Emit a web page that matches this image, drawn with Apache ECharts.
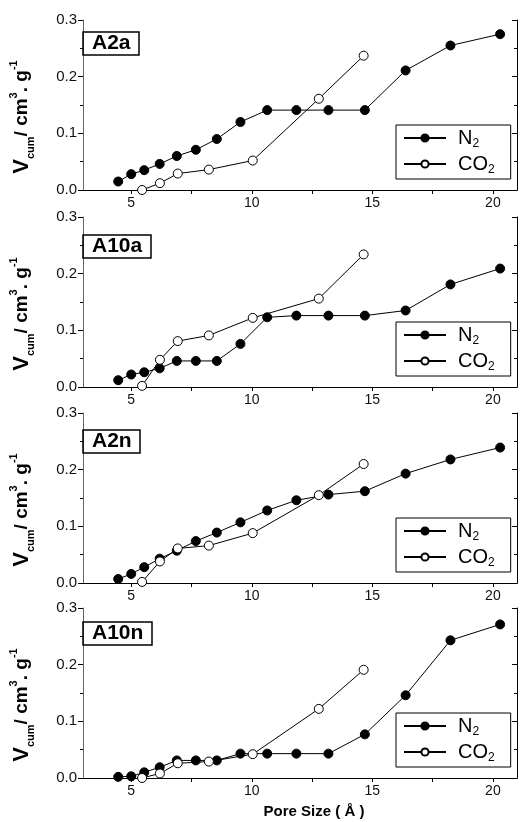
<!DOCTYPE html>
<html>
<head>
<meta charset="utf-8">
<script src="https://cdn.jsdelivr.net/npm/echarts@6/dist/echarts.min.js"></script>
<style>
  html, body { margin: 0; padding: 0; background: #fff; }
  #chart { width: 521px; height: 822px; }
</style>
</head>
<body>
<div id="chart"></div>
<script>
// 四个样品的累计孔容分布 (N2 / CO2)
const poreN2 = [4.46, 5.0, 5.54, 6.18, 6.89, 7.68, 8.55, 9.53, 10.64, 11.85, 13.18, 14.69, 16.38, 18.24, 20.30]
const poreCO2 = [5.45, 6.19, 6.93, 8.22, 10.04, 12.78, 14.64]

const panels = ['A2a', 'A10a', 'A2n', 'A10n']
const n2Vals = [
  [0.015, 0.028, 0.035, 0.046, 0.060, 0.071, 0.090, 0.120, 0.141, 0.141, 0.141, 0.141, 0.211, 0.255, 0.275],
  [0.012, 0.022, 0.026, 0.033, 0.046, 0.046, 0.046, 0.076, 0.123, 0.126, 0.126, 0.126, 0.135, 0.181, 0.209],
  [0.007, 0.016, 0.028, 0.043, 0.057, 0.074, 0.089, 0.107, 0.128, 0.146, 0.156, 0.162, 0.193, 0.218, 0.239],
  [0.002, 0.003, 0.010, 0.019, 0.031, 0.031, 0.031, 0.043, 0.043, 0.043, 0.043, 0.077, 0.146, 0.243, 0.271],
]
const co2Vals = [
  [0.0, 0.012, 0.029, 0.036, 0.052, 0.161, 0.237],
  [0.002, 0.048, 0.081, 0.091, 0.122, 0.156, 0.234],
  [0.002, 0.038, 0.061, 0.066, 0.088, 0.155, 0.210],
  [0.0, 0.008, 0.026, 0.029, 0.042, 0.122, 0.191],
]
const xTicks = [5, 7.5, 10, 12.5, 15, 17.5, 20]
const xLabels = [5, 10, 15, 20]

const FONT = 'Liberation Sans, Arial, sans-serif'
const tops = [20, 217, 413, 608]
const titleOff = [12, 18, 17, 14]   // 标签框相对图框顶部的偏移
const H = 170

const zip = (xs, ys) => xs.map((x, i) => [x, ys[i]])

const grid = [], xAxis = [], yAxis = [], series = [], title = [], legend = []

panels.forEach((p, i) => {
  const top = tops[i]
  const last = i === panels.length - 1
  grid.push({ left: 72, right: 4, top, height: H })

  xAxis.push({
    type: 'value', gridIndex: i, position: 'bottom', min: 3, max: 21,
    axisLine: { lineStyle: { color: '#000', width: 1 } },
    axisTick: { show: true, inside: false, length: 4, customValues: xTicks, lineStyle: { color: '#000' } },
    axisLabel: { customValues: xLabels, margin: 6, fontSize: 14, color: '#111', fontFamily: FONT },
    splitLine: { show: false },
    name: last ? 'Pore Size ( Å )' : '',
    nameLocation: 'middle', nameGap: 26,
    nameTextStyle: { fontSize: 15, fontWeight: 'bold', color: '#000', fontFamily: FONT, padding: [0, 0, 0, 28] },
  })
  xAxis.push({
    type: 'value', gridIndex: i, position: 'top', min: 3, max: 21,
    axisLine: { lineStyle: { color: '#000', width: 1 } },
    axisTick: { show: true, inside: true, length: 4, customValues: xTicks, lineStyle: { color: '#000' } },
    axisLabel: { show: false },
    splitLine: { show: false },
  })

  yAxis.push({
    type: 'value', gridIndex: i, position: 'left', min: 0, max: 0.3, interval: 0.1,
    axisLine: { show: true, lineStyle: { color: '#666', width: 1 } },
    axisTick: { show: true, inside: false, length: 5, lineStyle: { color: '#000' } },
    minorTick: { show: true, splitNumber: 2, length: 3, lineStyle: { color: '#000' } },
    axisLabel: { margin: 6, fontSize: 15, color: '#111', fontFamily: FONT, formatter: (v) => v.toFixed(1) },
    splitLine: { show: false },
    name: '{v|V}{s|cum}{b|/ cm}{p|3}{b|. g}{p|-1}',
    nameLocation: 'middle', nameGap: 47,
    nameTextStyle: {
      fontFamily: FONT, color: '#000', padding: [0, 24, 0, 0],
      rich: {
        v: { fontSize: 22, fontWeight: 'bold', lineHeight: 28, verticalAlign: 'middle', fontFamily: FONT },
        s: { fontSize: 11, fontWeight: 'bold', lineHeight: 28, verticalAlign: 'bottom', fontFamily: FONT },
        b: { fontSize: 19, fontWeight: 'bold', lineHeight: 28, verticalAlign: 'middle', fontFamily: FONT },
        p: { fontSize: 11, fontWeight: 'bold', lineHeight: 28, verticalAlign: 'top', fontFamily: FONT },
      },
    },
  })
  yAxis.push({
    type: 'value', gridIndex: i, position: 'right', min: 0, max: 0.3, interval: 0.1,
    axisLine: { show: true, lineStyle: { color: '#000', width: 1 } },
    axisTick: { show: true, inside: true, length: 5, lineStyle: { color: '#000' } },
    minorTick: { show: true, splitNumber: 2, length: 3, lineStyle: { color: '#000' } },
    axisLabel: { show: false },
    splitLine: { show: false },
  })

  series.push({
    name: 'N2', type: 'line', xAxisIndex: 2 * i, yAxisIndex: 2 * i,
    data: zip(poreN2, n2Vals[i]),
    symbol: 'circle', symbolSize: 9,
    itemStyle: { color: '#000', borderColor: '#000', borderWidth: 1 },
    lineStyle: { color: '#000', width: 1 },
    animation: false,
  })
  series.push({
    name: 'CO2', type: 'line', xAxisIndex: 2 * i, yAxisIndex: 2 * i,
    data: zip(poreCO2, co2Vals[i]),
    symbol: 'circle', symbolSize: 9,
    itemStyle: { color: '#fff', borderColor: '#000', borderWidth: 1 },
    lineStyle: { color: '#000', width: 1 },
    animation: false,
  })

  title.push({
    text: p, left: 83, top: top + titleOff[i],
    borderColor: '#000', borderWidth: 1.5, padding: [1, 9],
    textStyle: { fontSize: 21, fontWeight: 'bold', color: '#000', fontFamily: FONT },
  })

  legend.push({
    data: ['N2', 'CO2'], orient: 'vertical', left: 396, top: top + 105,
    borderColor: '#000', borderWidth: 1, padding: [3, 16, 3, 7],
    itemGap: 4, itemWidth: 42, itemHeight: 9, selectedMode: false,
    formatter: (name) => (name === 'N2' ? '{n|N}{s|2}' : '{n|CO}{s|2}'),
    textStyle: {
      fontFamily: FONT, color: '#000',
      rich: {
        n: { fontSize: 20, lineHeight: 24, verticalAlign: 'middle', padding: [0, 0, 0, 7], fontFamily: FONT },
        s: { fontSize: 12, lineHeight: 24, verticalAlign: 'bottom', fontFamily: FONT },
      },
    },
  })
})

const chart = echarts.init(document.getElementById('chart'))
chart.setOption({
  backgroundColor: '#fff',
  animation: false,
  title, legend, grid, xAxis, yAxis, series,
})
</script>
</body>
</html>
